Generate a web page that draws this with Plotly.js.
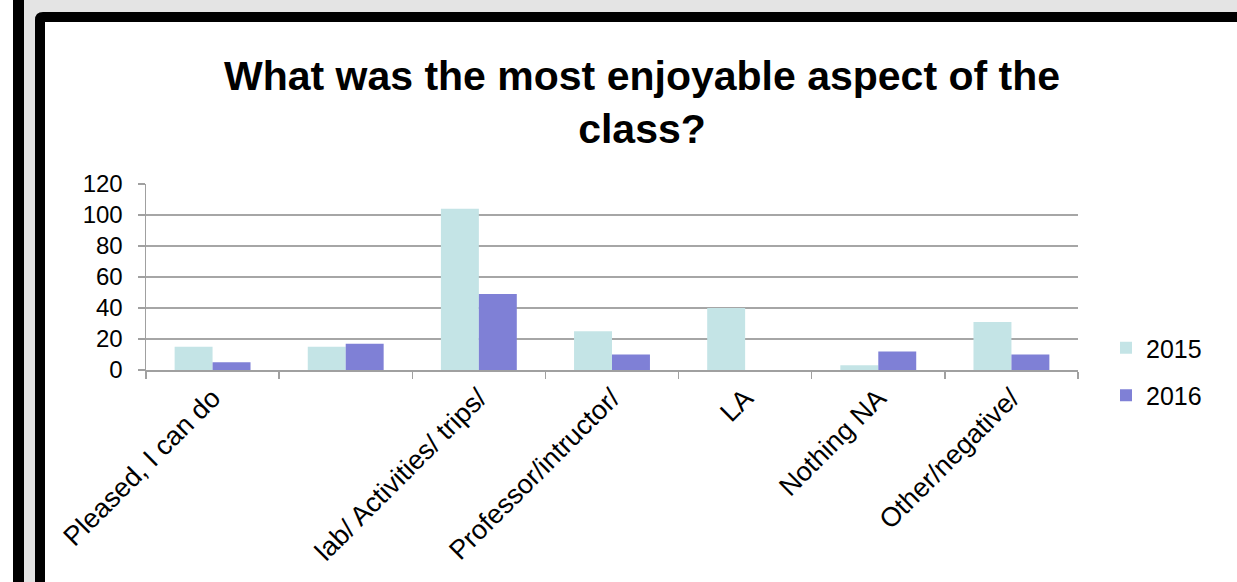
<!DOCTYPE html>
<html>
<head>
<meta charset="utf-8">
<script src="https://cdn.plot.ly/plotly-3.0.1.min.js"></script>
<style>
html,body{margin:0;padding:0;background:#fff;}
#chart{width:1237px;height:582px;}
</style>
</head>
<body>
<div id="chart"></div>
<script>
// ---- data ----
const categories = ["Pleased, I can do", " ", "lab/ Activities/ trips/", "Professor/intructor/", "LA", "Nothing NA", "Other/negative/"];
const values2015 = [15, 15, 104, 25, 40, 3, 31];
const values2016 = [5, 17, 49, 10, 0, 12, 10];
const seriesNames = ["2015", "2016"];
const chartTitle = "What was the most enjoyable aspect of the<br>class?";
const yTicks = [0, 20, 40, 60, 80, 100, 120];

// ---- layout geometry (pixels) ----
const W = 1237, H = 582;
const L = 146, R = 1078, T = 184, B = 370;
const pw = R - L, ph = B - T;
const px = x => (x - L) / pw;
const py = y => (B - y) / ph;

const shapes = [
  {type:'rect', xref:'paper', yref:'paper', x0:px(13), x1:px(24), y0:py(0), y1:py(H), fillcolor:'#000', line:{width:0}, layer:'below'},
  {type:'rect', xref:'paper', yref:'paper', x0:px(24), x1:px(W), y0:py(0), y1:py(H), fillcolor:'#e4e4e4', line:{width:0}, layer:'below'},
  {type:'path', xref:'paper', yref:'paper',
   path:`M ${px(35)},${py(H+5)} L ${px(35)},${py(20)} Q ${px(35)},${py(12)} ${px(43)},${py(12)} L ${px(W+5)},${py(12)} L ${px(W+5)},${py(H+5)} Z`,
   fillcolor:'#000', line:{width:0}, layer:'below'},
  {type:'rect', xref:'paper', yref:'paper', x0:px(45), x1:px(W+5), y0:py(22), y1:py(H+5), fillcolor:'#fff', line:{width:0}, layer:'below'}
];

const font = "Liberation Sans, Arial, sans-serif";

const traces = [
  {type:'bar', name:seriesNames[0], x:categories, y:values2015, marker:{color:'#c4e4e6'}, legendgroup:'a'},
  {type:'bar', name:seriesNames[1], x:categories, y:values2016, marker:{color:'#7f80d6'}, legendgroup:'b'}
];

const layout = {
  width: W, height: H,
  margin: {l: L, r: W - R, t: T, b: H - B, pad: 0},
  paper_bgcolor: '#ffffff',
  plot_bgcolor: 'rgba(0,0,0,0)',
  font: {family: font, color: '#000'},
  title: {
    text: '<b>' + chartTitle + '</b>',
    font: {family: font, size: 41, color: '#000'},
    xref: 'container', yref: 'container',
    x: 642 / W, xanchor: 'center',
    y: 1 - 90 / H, yanchor: 'top'
  },
  barmode: 'group',
  bargap: 0.43,
  bargroupgap: 0,
  showlegend: true,
  legend: {
    x: px(1106), xanchor: 'left',
    y: py(325), yanchor: 'top',
    font: {family: font, size: 25, color: '#000'},
    traceorder: 'grouped',
    tracegroupgap: 12,
    bgcolor: 'rgba(0,0,0,0)'
  },
  xaxis: {
    type: 'category',
    tickangle: -45,
    tickfont: {family: font, size: 27, color: '#000'},
    showline: true, linecolor: '#a0a0a0', linewidth: 1.5,
    ticks: 'outside', tickson: 'boundaries', ticklen: 7, tickcolor: '#a0a0a0', tickwidth: 1.5,
    showgrid: false,
    fixedrange: true
  },
  yaxis: {
    range: [0, 120],
    tickvals: yTicks,
    tickfont: {family: font, size: 24, color: '#000'},
    showline: true, linecolor: '#a0a0a0', linewidth: 1.5,
    ticks: 'outside', ticklen: 7, tickcolor: '#a0a0a0', tickwidth: 1.5,
    showgrid: true, gridcolor: '#a6a6a6', gridwidth: 2,
    zeroline: false,
    ticklabelstandoff: 10,
    fixedrange: true
  },
  shapes: shapes
};

Plotly.newPlot('chart', traces, layout, {displayModeBar: false, staticPlot: true});
</script>
</body>
</html>
